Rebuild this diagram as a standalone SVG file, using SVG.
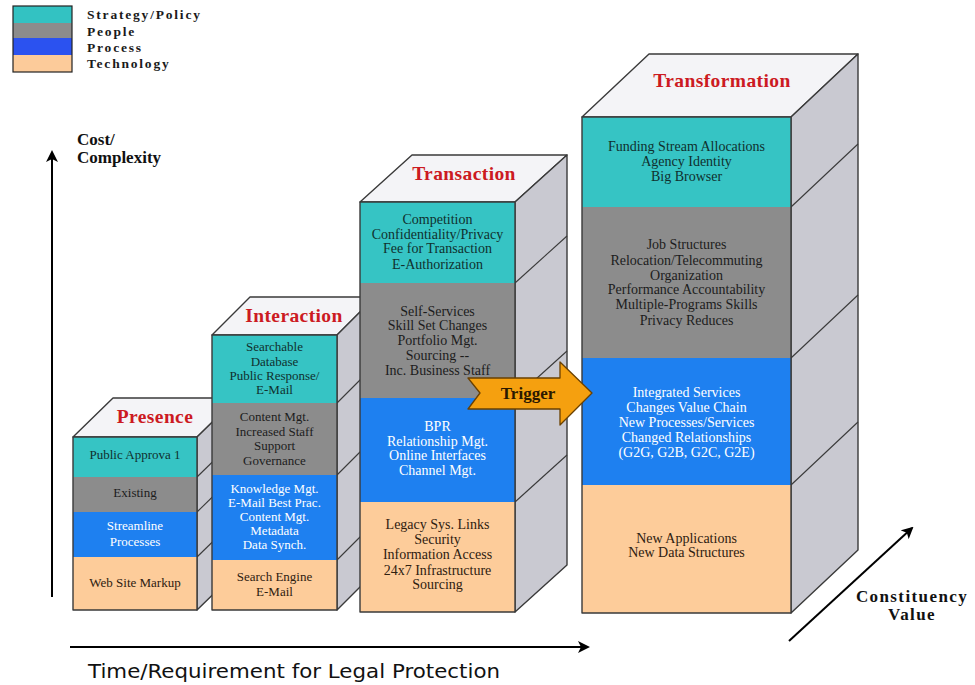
<svg xmlns="http://www.w3.org/2000/svg" width="975" height="685" viewBox="0 0 975 685">
<defs>
<marker id="ah" viewBox="0 0 12 12" refX="10" refY="6" markerWidth="12" markerHeight="12" markerUnits="userSpaceOnUse" orient="auto">
<path d="M0,0 L12,6 L0,12 L3,6 Z" fill="#000"/>
</marker>
</defs>
<style>
.edge{stroke:#3a3a3a;stroke-width:1.4;stroke-linejoin:round}
.top{fill:#f4f4f7}
.side{fill:#c9c9d1}
.cy{fill:#36c4c4}
.gr{fill:#8c8c8c}
.bl{fill:#1e80f0}
.te{fill:#fdcc9a}
.sl{stroke:#3a3a3a;stroke-width:1.1;fill:none}
.t{font-family:"Liberation Serif",serif;font-size:13px;text-anchor:middle}
.big .t{font-size:14px}
.dk{fill:#10302e}
.dg{fill:#1c1c1c}
.wh{fill:#ffffff}
.br{fill:#2e2010}
.ttl{font-family:"Liberation Serif",serif;font-weight:bold;font-size:19.5px;fill:#cc1a22;text-anchor:middle;letter-spacing:0.4px}
.lg{font-family:"Liberation Serif",serif;font-weight:bold;font-size:13.5px;fill:#1a1a1a;letter-spacing:1.8px}
.ax{font-family:"Liberation Serif",serif;font-weight:bold;font-size:17px;fill:#111}
</style>
<rect width="975" height="685" fill="#ffffff"/>

<g id="legend">
<rect x="13" y="6" width="59" height="17" fill="#33c2c2"/>
<rect x="13" y="23" width="59" height="15" fill="#8c8c8c"/>
<rect x="13" y="38" width="59" height="17" fill="#2b52f0"/>
<rect x="13" y="55" width="59" height="17" fill="#fccb9a"/>
<rect x="13" y="6" width="59" height="66" fill="none" stroke="#222" stroke-width="1.2"/>
<text class="lg" x="87" y="19">Strategy/Policy</text>
<text class="lg" x="87" y="36">People</text>
<text class="lg" x="87" y="52">Process</text>
<text class="lg" x="87" y="68">Technology</text>
</g>

<g id="connectors">
<line x1="52" y1="597" x2="52" y2="152" stroke="#000" stroke-width="2" marker-end="url(#ah)"/>
<line x1="70" y1="647" x2="588" y2="647" stroke="#000" stroke-width="2" marker-end="url(#ah)"/>
<line x1="789" y1="641" x2="912" y2="528" stroke="#000" stroke-width="2" marker-end="url(#ah)"/>
</g>

<g id="axis-labels">
<text class="ax" x="77" y="145">Cost/</text>
<text class="ax" x="77" y="163">Complexity</text>
<text x="88" y="678" font-family="DejaVu Sans, sans-serif" font-size="19" fill="#111" textLength="412" lengthAdjust="spacingAndGlyphs">Time/Requirement for Legal Protection</text>
<text class="ax" x="912" y="602" text-anchor="middle" font-size="16" letter-spacing="1.4">Constituency</text>
<text class="ax" x="912" y="620" text-anchor="middle" font-size="16" letter-spacing="1.4">Value</text>
</g>

<g id="presence">
<polygon class="top edge" points="73,437 113,398 237,398 197,437"/>
<polygon class="side edge" points="197,437 237,398 237,571 197,610"/>
<line class="sl" x1="197" y1="477" x2="237" y2="438"/>
<line class="sl" x1="197" y1="512" x2="237" y2="473"/>
<line class="sl" x1="197" y1="557" x2="237" y2="518"/>
<rect class="cy" x="73" y="437" width="124" height="40"/>
<rect class="gr" x="73" y="477" width="124" height="35"/>
<rect class="bl" x="73" y="512" width="124" height="45"/>
<rect class="te" x="73" y="557" width="124" height="53"/>
<rect x="73" y="437" width="124" height="173" fill="none" class="edge"/>
<text class="ttl" x="155" y="423">Presence</text>
<text class="t dk" x="135" y="459">Public Approva 1</text>
<text class="t dg" x="135" y="497">Existing</text>
<text class="t wh" x="135" y="530">Streamline</text>
<text class="t wh" x="135" y="546">Processes</text>
<text class="t br" x="135" y="587">Web Site Markup</text>
</g>

<g id="interaction">
<polygon class="top edge" points="212,335 250,297 375,297 337,335"/>
<polygon class="side edge" points="337,335 375,297 375,572 337,610"/>
<line class="sl" x1="337" y1="403" x2="375" y2="365"/>
<line class="sl" x1="337" y1="475" x2="375" y2="437"/>
<line class="sl" x1="337" y1="560" x2="375" y2="522"/>
<rect class="cy" x="212" y="335" width="125" height="68"/>
<rect class="gr" x="212" y="403" width="125" height="72"/>
<rect class="bl" x="212" y="475" width="125" height="85"/>
<rect class="te" x="212" y="560" width="125" height="50"/>
<rect x="212" y="335" width="125" height="275" fill="none" class="edge"/>
<text class="ttl" x="294" y="322">Interaction</text>
<text class="t dk" x="274.5" y="351">Searchable</text>
<text class="t dk" x="274.5" y="366">Database</text>
<text class="t dk" x="274.5" y="380">Public Response/</text>
<text class="t dk" x="274.5" y="394">E-Mail</text>
<text class="t dg" x="274.5" y="421">Content Mgt.</text>
<text class="t dg" x="274.5" y="436">Increased Staff</text>
<text class="t dg" x="274.5" y="450">Support</text>
<text class="t dg" x="274.5" y="465">Governance</text>
<text class="t wh" x="274.5" y="493">Knowledge Mgt.</text>
<text class="t wh" x="274.5" y="507">E-Mail Best Prac.</text>
<text class="t wh" x="274.5" y="521">Content Mgt.</text>
<text class="t wh" x="274.5" y="535">Metadata</text>
<text class="t wh" x="274.5" y="549">Data Synch.</text>
<text class="t br" x="274.5" y="581">Search Engine</text>
<text class="t br" x="274.5" y="596">E-Mail</text>
</g>

<g id="transaction" class="big">
<polygon class="top edge" points="360,202 412,155 567,155 515,202"/>
<polygon class="side edge" points="515,202 567,155 567,565 515,612"/>
<line class="sl" x1="515" y1="283" x2="567" y2="236"/>
<line class="sl" x1="515" y1="398" x2="567" y2="351"/>
<line class="sl" x1="515" y1="502" x2="567" y2="455"/>
<rect class="cy" x="360" y="202" width="155" height="81"/>
<rect class="gr" x="360" y="283" width="155" height="115"/>
<rect class="bl" x="360" y="398" width="155" height="104"/>
<rect class="te" x="360" y="502" width="155" height="110"/>
<rect x="360" y="202" width="155" height="410" fill="none" class="edge"/>
<text class="ttl" x="464" y="180">Transaction</text>
<text class="t dk" x="437.5" y="224">Competition</text>
<text class="t dk" x="437.5" y="239">Confidentiality/Privacy</text>
<text class="t dk" x="437.5" y="253">Fee for Transaction</text>
<text class="t dk" x="437.5" y="269">E-Authorization</text>
<text class="t dg" x="437.5" y="316">Self-Services</text>
<text class="t dg" x="437.5" y="330">Skill Set Changes</text>
<text class="t dg" x="437.5" y="345">Portfolio Mgt.</text>
<text class="t dg" x="437.5" y="360">Sourcing --</text>
<text class="t dg" x="437.5" y="375">Inc. Business Staff</text>
<text class="t wh" x="437.5" y="431">BPR</text>
<text class="t wh" x="437.5" y="446">Relationship Mgt.</text>
<text class="t wh" x="437.5" y="460">Online Interfaces</text>
<text class="t wh" x="437.5" y="475">Channel Mgt.</text>
<text class="t br" x="437.5" y="529">Legacy Sys. Links</text>
<text class="t br" x="437.5" y="544">Security</text>
<text class="t br" x="437.5" y="559">Information Access</text>
<text class="t br" x="437.5" y="575">24x7 Infrastructure</text>
<text class="t br" x="437.5" y="589">Sourcing</text>
</g>

<g id="transformation" class="big">
<polygon class="top edge" points="582,117 649,54 858,54 791,117"/>
<polygon class="side edge" points="791,117 858,54 858,550 791,613"/>
<line class="sl" x1="791" y1="207" x2="858" y2="144"/>
<line class="sl" x1="791" y1="358" x2="858" y2="295"/>
<line class="sl" x1="791" y1="485" x2="858" y2="422"/>
<rect class="cy" x="582" y="117" width="209" height="90"/>
<rect class="gr" x="582" y="207" width="209" height="151"/>
<rect class="bl" x="582" y="358" width="209" height="127"/>
<rect class="te" x="582" y="485" width="209" height="128"/>
<rect x="582" y="117" width="209" height="496" fill="none" class="edge"/>
<text class="ttl" x="722" y="87">Transformation</text>
<text class="t dk" x="686.5" y="151">Funding Stream Allocations</text>
<text class="t dk" x="686.5" y="166">Agency Identity</text>
<text class="t dk" x="686.5" y="181">Big Browser</text>
<text class="t dg" x="686.5" y="249">Job Structures</text>
<text class="t dg" x="686.5" y="265">Relocation/Telecommuting</text>
<text class="t dg" x="686.5" y="280">Organization</text>
<text class="t dg" x="686.5" y="294">Performance Accountability</text>
<text class="t dg" x="686.5" y="309">Multiple-Programs Skills</text>
<text class="t dg" x="686.5" y="325">Privacy Reduces</text>
<text class="t wh" x="686.5" y="397">Integrated Services</text>
<text class="t wh" x="686.5" y="412">Changes Value Chain</text>
<text class="t wh" x="686.5" y="427">New Processes/Services</text>
<text class="t wh" x="686.5" y="442">Changed Relationships</text>
<text class="t wh" x="686.5" y="457">(G2G, G2B, G2C, G2E)</text>
<text class="t br" x="686.5" y="543">New Applications</text>
<text class="t br" x="686.5" y="557">New Data Structures</text>
</g>

<g id="trigger">
<polygon points="468,378 560,378 560,362 592,393 560,425 560,409 468,409 480,393" fill="#f5a00f" stroke="#6a4000" stroke-width="1.3" stroke-linejoin="round"/>
<text x="528" y="399" font-family="Liberation Serif, serif" font-weight="bold" font-size="17" fill="#2a1800" text-anchor="middle">Trigger</text>
</g>
</svg>
